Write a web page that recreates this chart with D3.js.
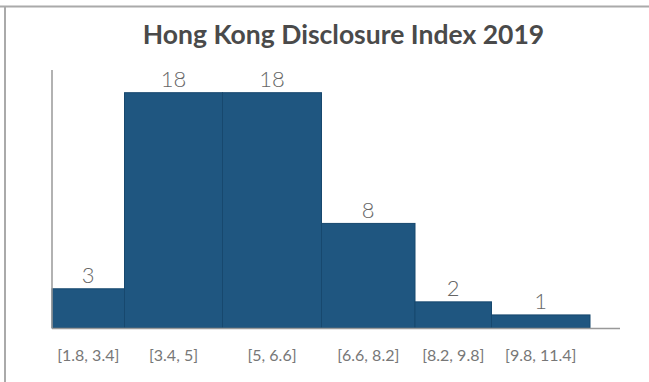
<!DOCTYPE html>
<html>
<head>
<meta charset="utf-8">
<script src="https://cdn.jsdelivr.net/npm/d3@7"></script>
<style>
  body { margin: 0; background: #fff; }
  svg text { font-family: Lato, "Open Sans", sans-serif; }
</style>
</head>
<body>
<div id="chart-area"></div>
<script>
// histogram bins and counts
var binEdges = [1.8, 3.4, 5, 6.6, 8.2, 9.8, 11.4];
var binLabels = ["[1.8, 3.4]", "[3.4, 5]", "[5, 6.6]", "[6.6, 8.2]", "[8.2, 9.8]", "[9.8, 11.4]"];
var counts = [3, 18, 18, 8, 2, 1];

var width = 649, height = 382;

var svg = d3.select("#chart-area")
  .append("svg")
    .attr("width", width)
    .attr("height", height);

// frame lines (top and left only)
svg.append("line")
  .attr("x1", 0).attr("x2", width)
  .attr("y1", 6.5).attr("y2", 6.5)
  .style("stroke", "#aaa").style("stroke-width", 2);
svg.append("line")
  .attr("x1", 5).attr("x2", 5)
  .attr("y1", 6).attr("y2", height)
  .style("stroke", "#aaa").style("stroke-width", 2);

// bins are drawn at uneven widths in the original
var x = d3.scaleLinear()
  .domain(binEdges)
  .range([52, 124.5, 222.5, 321.5, 415, 491.5, 590]);

var y = d3.scaleLinear()
  .domain([0, 18])
  .range([328, 92.7]);

var bins = counts.map(function(c, i) {
  return { lo: binEdges[i], hi: binEdges[i + 1], count: c, label: binLabels[i] };
});

svg.append("text")
  .attr("x", 343.5)
  .attr("y", 43.5)
  .attr("text-anchor", "middle")
  .style("font-size", "26.5px")
  .style("font-weight", "bold")
  .style("fill", "#4a4a4a")
  .text("Hong Kong Disclosure Index 2019");

svg.selectAll("rect.bar")
  .data(bins)
  .enter()
  .append("rect")
    .attr("class", "bar")
    .attr("x", function(d) { return x(d.lo); })
    .attr("y", function(d) { return y(d.count); })
    .attr("width", function(d) { return x(d.hi) - x(d.lo); })
    .attr("height", function(d) { return y(0) - y(d.count); })
    .style("fill", "#1f5680")
    .style("stroke", "#17486e")
    .style("stroke-width", 1);

// axes lines
svg.append("line")
  .attr("x1", 52).attr("x2", 52)
  .attr("y1", 70).attr("y2", y(0))
  .style("stroke", "#999").style("stroke-width", 1.5);
svg.append("line")
  .attr("x1", 52).attr("x2", 620)
  .attr("y1", y(0) + 0.5).attr("y2", y(0) + 0.5)
  .style("stroke", "#999").style("stroke-width", 1.5);

svg.selectAll("text.val")
  .data(bins)
  .enter()
  .append("text")
    .attr("class", "val")
    .attr("x", function(d) { return (x(d.lo) + x(d.hi)) / 2; })
    .attr("y", function(d) { return y(d.count) - 5.5; })
    .attr("text-anchor", "middle")
    .style("font-size", "22px")
    .style("font-weight", 300)
    .style("fill", "#666")
    .text(function(d) { return d.count; });

svg.selectAll("text.cat")
  .data(bins)
  .enter()
  .append("text")
    .attr("class", "cat")
    .attr("x", function(d) { return (x(d.lo) + x(d.hi)) / 2; })
    .attr("y", 360.5)
    .attr("text-anchor", "middle")
    .style("font-size", "16px")
    .style("fill", "#777")
    .text(function(d) { return d.label; });
</script>
</body>
</html>
